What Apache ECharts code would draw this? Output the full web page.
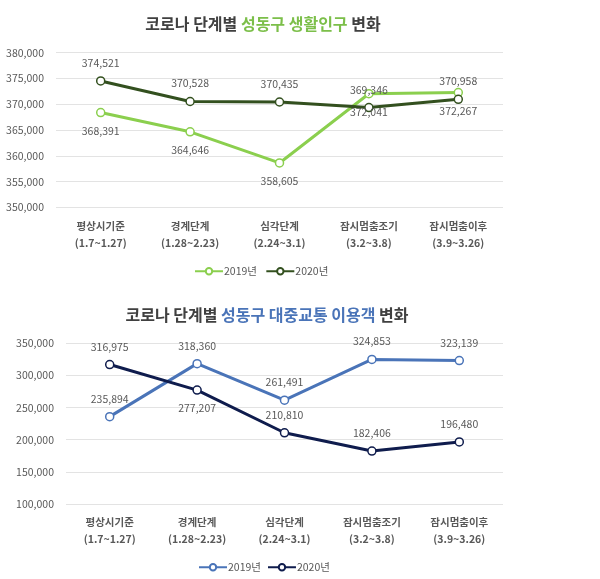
<!DOCTYPE html>
<html><head><meta charset="utf-8">
<script src="https://cdn.jsdelivr.net/npm/echarts@6/dist/echarts.min.js"></script>
<style>html,body{margin:0;padding:0;background:#fff}#c{width:600px;height:579px}</style>
</head><body><div id="c"></div>
<script>
var categories = ['평상시기준\n(1.7~1.27)','경계단계\n(1.28~2.23)','심각단계\n(2.24~3.1)','잠시멈춤조기\n(3.2~3.8)','잠시멈춤이후\n(3.9~3.26)'];
var pop2019 = [368391, 364646, 358605, 372041, 372267];
var pop2020 = [374521, 370528, 370435, 369346, 370958];
var trans2019 = [235894, 318360, 261491, 324853, 323139];
var trans2020 = [316975, 277207, 210810, 182406, 196480];
var trans2020LabelPos = ['top','bottom','top','top','top'];

var txt = '#595959';
var font = '"Noto Sans CJK KR", "Noto Sans", sans-serif';
function fmt(v){ return v.toLocaleString('en-US'); }

var chart = echarts.init(document.getElementById('c'));
function lineSeries(name, data, color, xi, labelPos){
  return {
    name: name, type: 'line', xAxisIndex: xi, yAxisIndex: xi,
    data: data.map(function(v,i){ return {value:v, label:{position: Array.isArray(labelPos)?labelPos[i]:labelPos}}; }),
    symbol: 'circle', symbolSize: 8,
    lineStyle: {color: color, width: 3},
    itemStyle: {color: '#fff', borderColor: color, borderWidth: 1.5},
    label: {show: true, color: txt, fontSize: 10.5, fontFamily: font, distance: 8,
      formatter: function(p){ return fmt(p.value); }},
    emphasis: {disabled: true}
  };
}
var axisLabelX = {color: txt, fontSize: 10.5, fontFamily: font, fontWeight: 'bold', lineHeight: 17, margin: 10};
var axisLabelY = {color: txt, fontSize: 10.5, fontFamily: font, margin: 12, formatter: function(v){ return fmt(v); }};
var titleRich = function(c){ return {
  a: {fontSize: 16, fontWeight: 'bold', color: '#404040', fontFamily: font},
  h: {fontSize: 16, fontWeight: 'bold', color: c, fontFamily: font}}; };
chart.setOption({
  animation: false,
  textStyle: {fontFamily: font},
  title: [
    {text: '{a|코로나 단계별 }{h|성동구 생활인구}{a| 변화}', left: 258, textAlign: 'center', top: 11,
     textStyle: {rich: titleRich('#7cbf4a')}},
    {text: '{a|코로나 단계별 }{h|성동구 대중교통 이용객}{a| 변화}', left: 262, textAlign: 'center', top: 302,
     textStyle: {rich: titleRich('#4a74b8')}}
  ],
  legend: [
    {data: ['2019년 ', '2020년 '], top: 261, left: 189, itemWidth: 28, itemHeight: 8, itemGap: 6,
     textStyle: {color: txt, fontSize: 10.5, fontFamily: font, padding: [0,0,0,-4]}},
    {data: ['2019년', '2020년'], top: 557, left: 193, itemWidth: 28, itemHeight: 8, itemGap: 6,
     textStyle: {color: txt, fontSize: 10.5, fontFamily: font, padding: [0,0,0,-4]}}
  ],
  grid: [
    {left: 56, right: 97, top: 52.7, height: 154.6},
    {left: 66, right: 97, top: 343.3, height: 160.7}
  ],
  xAxis: [
    {type: 'category', gridIndex: 0, data: categories, axisLine: {show: false}, axisTick: {show: false}, axisLabel: axisLabelX},
    {type: 'category', gridIndex: 1, data: categories, axisLine: {show: false}, axisTick: {show: false}, axisLabel: axisLabelX}
  ],
  yAxis: [
    {type: 'value', gridIndex: 0, min: 350000, max: 380000, interval: 5000, axisLabel: axisLabelY,
     splitLine: {lineStyle: {color: '#e3e3e3'}}},
    {type: 'value', gridIndex: 1, min: 100000, max: 350000, interval: 50000, axisLabel: axisLabelY,
     splitLine: {lineStyle: {color: '#e3e3e3'}}}
  ],
  series: [
    lineSeries('2019년 ', pop2019, '#8bcf4e', 0, 'bottom'),
    lineSeries('2020년 ', pop2020, '#33501f', 0, 'top'),
    lineSeries('2019년', trans2019, '#4a74b8', 1, 'top'),
    lineSeries('2020년', trans2020, '#0f1c4d', 1, trans2020LabelPos)
  ]
});
</script></body></html>
